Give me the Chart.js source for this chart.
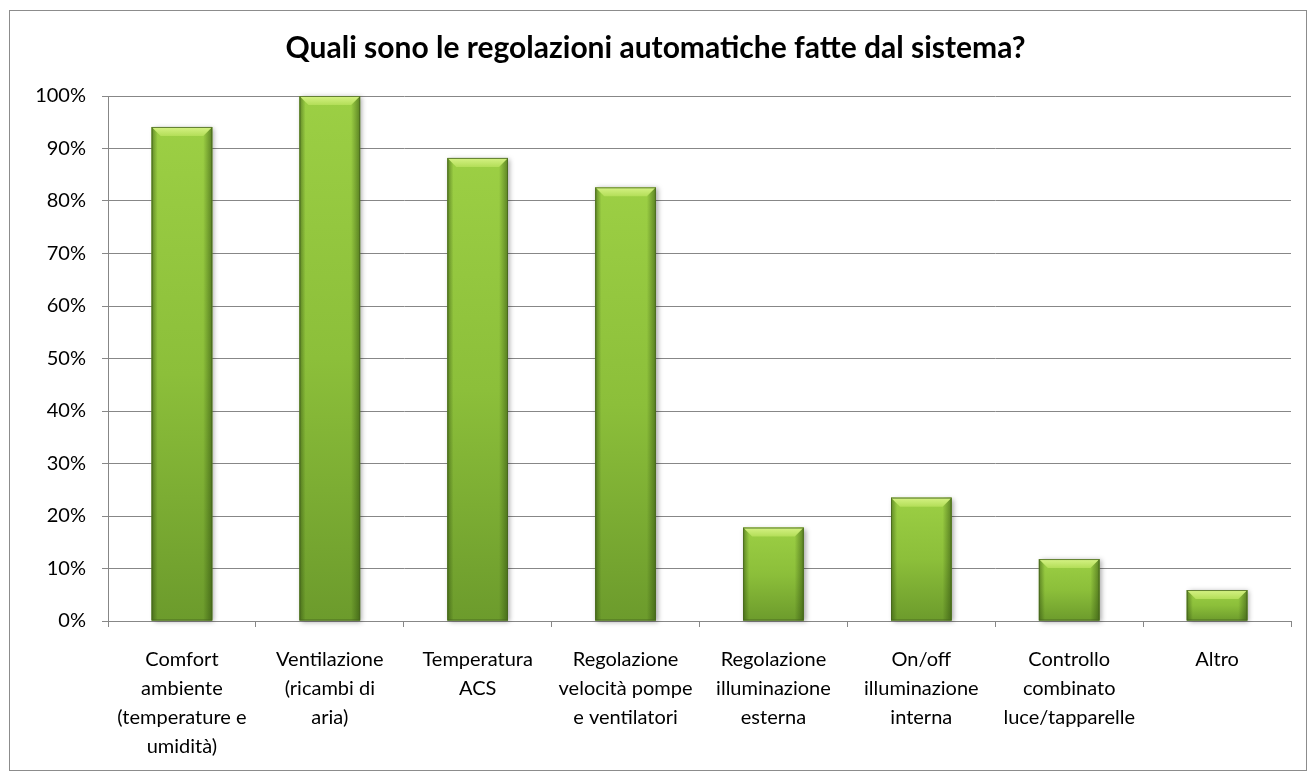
<!DOCTYPE html>
<html>
<head>
<meta charset="utf-8">
<script src="https://cdn.jsdelivr.net/npm/chart.js@4/dist/chart.umd.min.js"></script>
<style>
  html, body { margin: 0; padding: 0; background: #fff; }
  #wrap { width: 1316px; height: 778px; }
</style>
</head>
<body>
<div id="wrap"><canvas id="chart" width="1316" height="778"></canvas></div>
<script>
// chart data
const categories = [
  ['Comfort', 'ambiente', '(temperature e', 'umidità)'],
  ['Ventilazione', '(ricambi di', 'aria)'],
  ['Temperatura', 'ACS'],
  ['Regolazione', 'velocità pompe', 'e ventilatori'],
  ['Regolazione', 'illuminazione', 'esterna'],
  ['On/off', 'illuminazione', 'interna'],
  ['Controllo', 'combinato', 'luce/tapparelle'],
  ['Altro']
];
const percentages = [94.1, 100, 88.2, 82.6, 17.8, 23.5, 11.8, 5.9];
const titleText = 'Quali sono le regolazioni automatiche fatte dal sistema?';

const FONT = 'Lato, "Open Sans", sans-serif';

// white page + thin grey frame round the whole chart
const framePlugin = {
  id: 'frame',
  beforeDraw(chart) {
    const ctx = chart.ctx;
    ctx.save();
    ctx.fillStyle = '#ffffff';
    ctx.fillRect(0, 0, chart.width, chart.height);
    ctx.strokeStyle = '#8c8c8c';
    ctx.lineWidth = 1;
    ctx.strokeRect(9.5, 10.5, 1297, 760);
    ctx.restore();
  }
};

// soft shadow under every bar
const shadowPlugin = {
  id: 'barShadow',
  beforeDatasetsDraw(chart) {
    const ctx = chart.ctx;
    const meta = chart.getDatasetMeta(0);
    ctx.save();
    ctx.shadowColor = 'rgba(0,0,0,0.35)';
    ctx.shadowBlur = 5;
    ctx.shadowOffsetX = 2;
    ctx.shadowOffsetY = 1;
    ctx.fillStyle = '#6b9a2c';
    meta.data.forEach(bar => {
      const p = bar.getProps(['x', 'y', 'base', 'width'], true);
      ctx.fillRect(p.x - p.width / 2, p.y, p.width, p.base - p.y);
    });
    ctx.restore();
  }
};

// side shading and the lighter bevel on top of each bar
const bevelPlugin = {
  id: 'bevel',
  afterDatasetsDraw(chart) {
    const ctx = chart.ctx;
    const meta = chart.getDatasetMeta(0);
    const bv = 9;
    ctx.save();
    meta.data.forEach(bar => {
      const p = bar.getProps(['x', 'y', 'base', 'width'], true);
      const l = p.x - p.width / 2, r = p.x + p.width / 2;
      const h = p.base - p.y;
      if (!isFinite(l) || !isFinite(h)) return;

      const side = ctx.createLinearGradient(l, 0, r, 0);
      side.addColorStop(0, 'rgba(40,70,10,0.5)');
      side.addColorStop(0.1, 'rgba(40,70,10,0.0)');
      side.addColorStop(0.85, 'rgba(40,70,10,0.0)');
      side.addColorStop(1, 'rgba(40,70,10,0.55)');
      ctx.fillStyle = side;
      ctx.fillRect(l, p.y, p.width, h);

      const b = Math.min(bv, h / 2);
      const top = ctx.createLinearGradient(0, p.y, 0, p.y + b);
      top.addColorStop(0, '#d6f285');
      top.addColorStop(1, '#b3de58');
      ctx.fillStyle = top;
      ctx.beginPath();
      ctx.moveTo(l, p.y);
      ctx.lineTo(r, p.y);
      ctx.lineTo(r - b, p.y + b);
      ctx.lineTo(l + b, p.y + b);
      ctx.closePath();
      ctx.fill();

      ctx.strokeStyle = 'rgba(70,100,30,0.8)';
      ctx.lineWidth = 1;
      ctx.strokeRect(l + 0.5, p.y + 0.5, p.width - 1, h - 1);
    });
    ctx.restore();
  }
};

function barFill(context) {
  const chart = context.chart;
  const y = chart.scales.y;
  if (!y || !context.parsed) return '#8cbf3a';
  const yTop = y.getPixelForValue(context.parsed.y);
  const yBase = y.getPixelForValue(0);
  if (!isFinite(yTop) || !isFinite(yBase) || yTop === yBase) return '#8cbf3a';
  const g = chart.ctx.createLinearGradient(0, yTop, 0, yBase);
  g.addColorStop(0, '#9ccf44');
  g.addColorStop(0.5, '#8cbf3a');
  g.addColorStop(1, '#6c9b2c');
  return g;
}

const data = {
  labels: categories,
  datasets: [{
    label: 'Risposte',
    data: percentages,
    backgroundColor: barFill,
    borderWidth: 0,
    barPercentage: 0.41,
    categoryPercentage: 1.0
  }]
};

const config = {
  type: 'bar',
  data: data,
  plugins: [framePlugin, shadowPlugin, bevelPlugin],
  options: {
    responsive: false,
    animation: false,
    layout: {
      padding: { left: 20, right: 25, top: 0, bottom: 0 }
    },
    plugins: {
      legend: { display: false },
      tooltip: { enabled: false },
      title: {
        display: true,
        text: titleText,
        color: '#000000',
        font: { family: FONT, size: 30, weight: 'bold', lineHeight: 1.2 },
        padding: { top: 30, bottom: 30 }
      }
    },
    scales: {
      x: {
        afterFit: s => { s.height = 157; },
        border: { display: true, color: '#878787', width: 1 },
        grid: {
          display: true,
          drawOnChartArea: false,
          drawTicks: true,
          tickLength: 6,
          color: '#878787',
          offset: true
        },
        ticks: {
          color: '#000000',
          font: { family: FONT, size: 20, lineHeight: 1.45 },
          padding: 18,
          maxRotation: 0,
          autoSkip: false
        }
      },
      y: {
        min: 0,
        max: 100,
        afterFit: s => { s.width = 88; },
        border: { display: true, color: '#878787', width: 1 },
        grid: {
          color: '#878787',
          lineWidth: 1,
          tickLength: 6
        },
        ticks: {
          stepSize: 10,
          color: '#000000',
          font: { family: FONT, size: 20 },
          padding: 16,
          callback: v => v + '%'
        }
      }
    }
  }
};

new Chart(document.getElementById('chart'), config);
</script>
</body>
</html>
